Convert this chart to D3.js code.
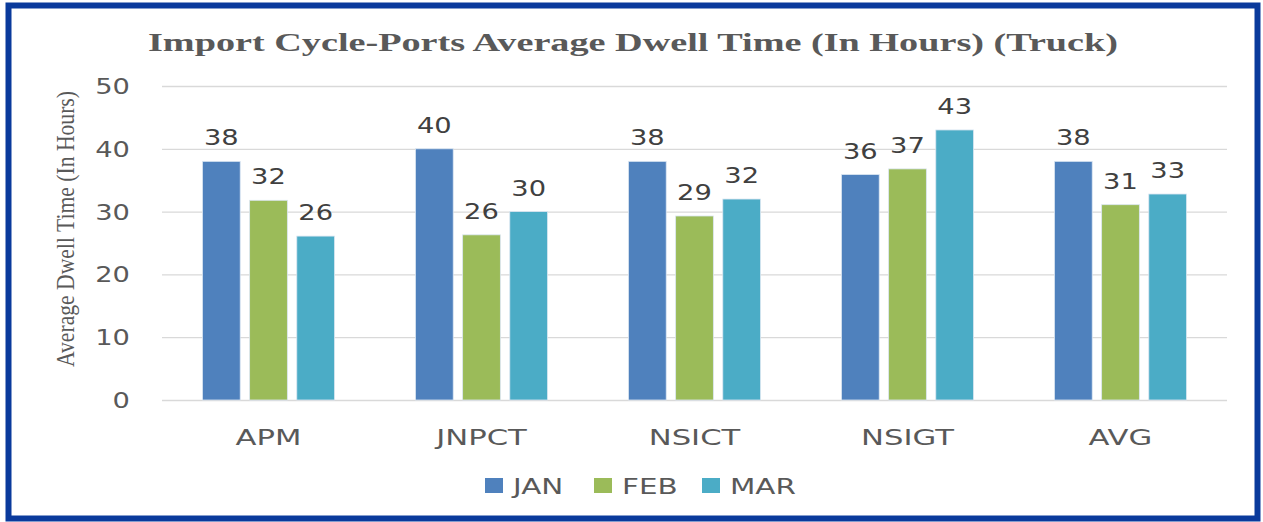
<!DOCTYPE html>
<html>
<head>
<meta charset="utf-8">
<script src="https://cdn.jsdelivr.net/npm/d3@7"></script>
<style>
  body { margin: 0; background: #fff; }
  svg { display: block; }
</style>
</head>
<body>
<svg id="chart" width="1263" height="522"></svg>
<script>
// chart data
const ports = ["APM", "JNPCT", "NSICT", "NSIGT", "AVG"];
const months = ["JAN", "FEB", "MAR"];
const jan = [38, 40, 38, 35.9, 38];
const feb = [31.8, 26.3, 29.3, 36.8, 31.1];
const mar = [26.1, 30, 32, 43, 32.8];
const yTicks = [0, 10, 20, 30, 40, 50];
const colors = ["#4f81bd", "#9bbb59", "#4bacc6"];

const series = [jan, feb, mar];
const rows = [];
ports.forEach((p, i) => {
  months.forEach((m, j) => rows.push({ port: p, month: m, value: series[j][i] }));
});

const svg = d3.select("#chart");
const plotL = 162, plotR = 1227, plotT = 86, plotB = 400;

// stretch text horizontally, the original picture is wider than normal
function stretch(sel, f) {
  sel.each(function () {
    const len = this.getComputedTextLength();
    d3.select(this).attr("textLength", len * f).attr("lengthAdjust", "spacingAndGlyphs");
  });
}

// frame
svg.append("rect")
  .attr("x", 8.5).attr("y", 5.5).attr("width", 1249).attr("height", 513)
  .attr("fill", "#fff").attr("stroke", "#0a3a9c").attr("stroke-width", 6);

const x0 = d3.scaleBand().domain(ports).range([plotL, plotR])
  .paddingInner(0.38).paddingOuter(0.19);
const x1 = d3.scaleBand().domain(months).range([0, x0.bandwidth()]).paddingInner(0.2);
const y = d3.scaleLinear().domain([0, 50]).range([plotB, plotT]);
const color = d3.scaleOrdinal().domain(months).range(colors);

// grid
svg.append("g").selectAll("line").data(yTicks).join("line")
  .attr("x1", plotL).attr("x2", plotR)
  .attr("y1", d => y(d) + 0.5).attr("y2", d => y(d) + 0.5)
  .attr("stroke", "#d9d9d9").attr("stroke-width", 1.3);

// y axis labels
const yl = svg.append("g").selectAll("text").data(yTicks).join("text")
  .attr("x", 130).attr("y", d => y(d) + 8)
  .attr("text-anchor", "end")
  .attr("font-family", "DejaVu Sans").attr("font-size", 22)
  .attr("fill", "#595959")
  .text(d => d);
stretch(yl, 1.24);

// bars
svg.append("g").selectAll("rect").data(rows).join("rect")
  .attr("x", d => x0(d.port) + x1(d.month))
  .attr("y", d => y(d.value))
  .attr("width", x1.bandwidth())
  .attr("height", d => plotB - y(d.value))
  .attr("fill", d => color(d.month))
  .attr("stroke", "#dbe6f2").attr("stroke-width", 0.8);

// value labels
const vl = svg.append("g").selectAll("text").data(rows).join("text")
  .attr("x", d => x0(d.port) + x1(d.month) + x1.bandwidth() / 2)
  .attr("y", d => y(d.value) - 16)
  .attr("text-anchor", "middle")
  .attr("font-family", "DejaVu Sans").attr("font-size", 22)
  .attr("fill", "#404040")
  .text(d => Math.round(d.value));
stretch(vl, 1.24);

// category labels
const cl = svg.append("g").selectAll("text").data(ports).join("text")
  .attr("x", d => x0(d) + x0.bandwidth() / 2)
  .attr("y", 445)
  .attr("text-anchor", "middle")
  .attr("font-family", "DejaVu Sans").attr("font-size", 21)
  .attr("fill", "#595959")
  .text(d => d);
stretch(cl, 1.46);

// title
const title = svg.append("text")
  .attr("x", 633).attr("y", 51)
  .attr("text-anchor", "middle")
  .attr("font-family", "Liberation Serif").attr("font-weight", "bold")
  .attr("font-size", 25).attr("fill", "#595959")
  .text("Import Cycle-Ports Average Dwell Time (In Hours) (Truck)");
title.attr("textLength", 970).attr("lengthAdjust", "spacingAndGlyphs");

// y axis title
svg.append("text")
  .attr("transform", "translate(74,229) rotate(-90)")
  .attr("text-anchor", "middle")
  .attr("font-family", "Liberation Serif").attr("font-size", 26)
  .attr("fill", "#595959")
  .attr("textLength", 276).attr("lengthAdjust", "spacingAndGlyphs")
  .text("Average Dwell Time (In Hours)");

// legend
const legendX = [485, 594, 702];
const lg = svg.append("g").selectAll("g").data(months).join("g")
  .attr("transform", (d, i) => `translate(${legendX[i]},478)`);
lg.append("rect").attr("width", 18).attr("height", 15)
  .attr("fill", d => color(d));
const lt = lg.append("text").attr("x", 28).attr("y", 16)
  .attr("font-family", "DejaVu Sans").attr("font-size", 21)
  .attr("fill", "#595959")
  .text(d => d);
stretch(lt, 1.4);
</script>
</body>
</html>
